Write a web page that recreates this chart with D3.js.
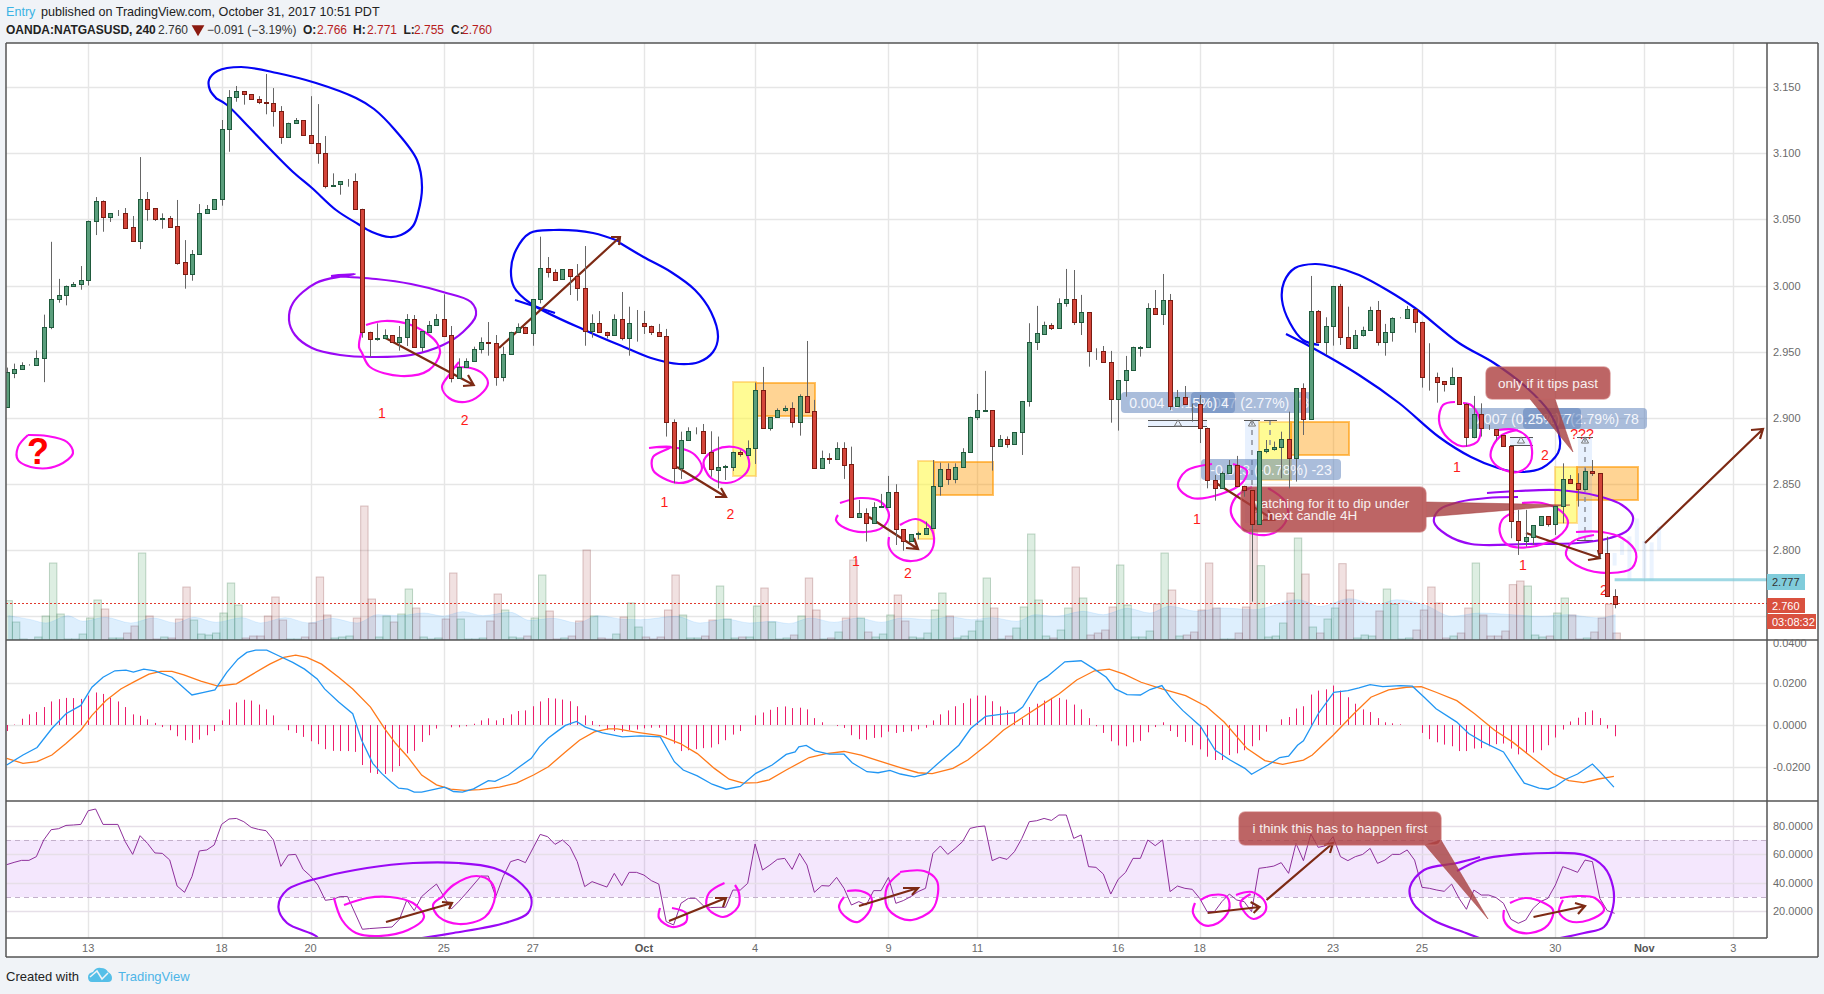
<!DOCTYPE html>
<html><head><meta charset="utf-8">
<script src="https://cdn.jsdelivr.net/npm/d3@7"></script>
<style>html,body{margin:0;padding:0;background:#f0f3f7;overflow:hidden}svg{display:block}text{font-family:"Liberation Sans",Arial,sans-serif}</style>
</head><body><svg id="c" width="1824" height="994"></svg>
<script>
// ---------- DATA ----------
const opens=[2.9085,2.934,2.937,2.94,2.94,2.945,2.969,2.99,2.993,3,
3.001,3.004,3.049,3.0635,3.052,3.0545,3.0545,3.0439,3.0338,3.0651,
3.0583,3.0505,3.0507,3.0447,3.0175,3.0089,3.0235,3.0545,3.0575,3.0651,
3.1179,3.1426,3.1466,3.1444,3.1406,3.1383,3.1376,3.1315,3.1119,3.123,
3.1247,3.1134,3.1074,3.0998,3.0754,3.0764,3.0787,3.0787,3.058,2.9651,
2.9598,2.9606,2.9623,2.9573,2.9608,2.9744,2.9538,2.9651,2.9699,2.9744,
2.9623,2.9298,2.9387,2.9432,2.952,2.9576,2.9563,2.9306,2.948,2.9651,
2.9689,2.9643,2.9895,3.0129,3.0099,3.0046,3.0122,3.0074,2.9978,2.9659,
2.9714,2.9651,2.9626,
2.9745,2.9606,2.9718,2.972,2.9697,2.9652,2.9621,2.8972,2.8624,2.883,2.8895,
2.8899,2.874,2.861,2.8631,2.8627,2.8745,2.872,2.877,2.9209,2.8927,2.9005,
2.9057,2.9073,2.8972,2.9166,2.905,2.8624,2.8694,2.8687,2.877,2.865,
2.8254,2.8285,2.8209,2.8328,2.833,2.8438,2.8159,2.8073,2.8124,2.8126,
2.8166,2.8488,2.8612,2.8541,2.8632,2.874,2.9005,2.9055,2.9057,2.8791,
2.8838,2.8806,2.8891,2.9125,2.9571,2.9637,2.97,2.9682,2.9866,2.9896,
2.9727,2.9798,2.9508,2.9503,2.942,2.9146,2.9284,2.936,2.9531,2.9533,
2.9828,2.9783,2.9888,2.9088,2.9161,2.9108,2.9103,2.8927,2.8529,
2.8468,2.8582,2.8642,2.8488,2.8453,2.8196,2.875,2.8763,2.8778,2.8838,
2.8695,2.9224,2.899,2.9805,2.9571,2.9692,2.9997,2.9609,2.9526,2.9624,
2.9662,2.9813,2.9576,2.9647,2.9752,2.9757,2.982,2.9727,2.9312,2.9307,
2.9277,2.9254,2.9307,2.9103,2.8854,2.9027,2.8919,2.8914,2.8869,2.8788,
2.8224,2.8073,2.8103,2.8194,2.8257,2.8196,2.8337,2.8536,2.8506,2.8466,
2.8597,2.8582,2.7977,2.7658];
const highs=[2.938,2.941,2.942,2.9405,2.951,2.978,3.033,3.005,3,3.0026,
3.0147,3.049,3.0668,3.0643,3.0545,3.057,3.0585,3.0525,3.097,3.0706,
3.0583,3.0545,3.0525,3.0646,3.0343,3.0268,3.0615,3.0608,3.0651,3.125,
3.1476,3.1507,3.1466,3.1444,3.143,3.1597,3.1491,3.1355,3.123,3.1265,
3.1247,3.143,3.137,3.1129,3.0847,3.0787,3.0804,3.0847,3.058,2.9651,
2.9714,2.9669,2.9623,2.9694,2.9784,2.9777,2.9656,2.9732,2.9784,2.9933,
2.9694,2.945,2.945,2.9538,2.9608,2.9724,2.9626,2.9538,2.9651,2.9714,
2.9689,2.9895,3.0369,3.0215,3.0122,3.0122,3.0122,3.0162,3.0298,2.9782,
2.9807,2.9651,2.9782,
2.9951,2.984,2.9815,2.9808,2.9697,2.971,2.9672,2.8989,2.8896,2.8929,2.8929,
2.8954,2.8899,2.8859,2.8645,2.8745,2.8755,2.883,2.9266,2.9385,2.9005,2.9072,
2.9093,2.9118,2.9178,2.9581,2.9136,2.8753,2.8733,2.8816,2.8816,2.8783,
2.838,2.8317,2.8363,2.8426,2.8562,2.8499,2.8159,2.8121,2.8141,2.8217,
2.8682,2.8662,2.8657,2.8657,2.8771,2.9009,2.9181,2.9355,2.9057,2.8871,
2.886,2.8891,2.9128,2.9715,2.9846,2.9727,2.9715,2.9903,3.0125,3.0117,
2.9929,2.9798,2.9526,2.9543,2.9506,2.9284,2.9468,2.9538,2.9543,2.9866,
2.9966,3.0087,2.9936,2.9211,2.9241,2.9108,2.9173,2.8927,2.8569,
2.8594,2.8682,2.8713,2.8488,2.8453,2.875,2.8833,2.8821,2.8896,2.9047,
2.9224,2.9261,3.0072,2.9815,2.976,2.9997,3.0012,2.984,2.9664,2.9689,
2.984,2.9883,2.971,2.976,2.976,2.9846,2.982,2.9727,2.9564,2.9342,
2.9277,2.938,2.9307,2.911,2.9166,2.911,2.8947,2.8914,2.8869,2.8788,
2.8305,2.8305,2.8103,2.8194,2.8257,2.8337,2.8657,2.8569,2.8582,2.8619,
2.8682,2.8582,2.8103,2.7706];
const lows=[2.9085,2.93,2.937,2.9395,2.94,2.927,2.967,2.987,2.985,3,
2.9968,3,3.0381,3.0406,3.048,3.0525,3.043,3.0338,3.0275,3.0489,
3.0487,3.0429,3.0437,3.0157,2.9976,3.0036,3.0235,3.0545,3.0575,3.0603,
3.101,3.1388,3.1366,3.1406,3.137,3.1293,3.12,3.107,3.1119,3.123,
3.1134,3.1074,3.092,3.0734,3.0754,3.0686,3.0746,3.058,2.9606,2.9462,
2.9583,2.9606,2.9573,2.9508,2.9543,2.9538,2.95,2.9651,2.9699,2.9621,
2.9268,2.9298,2.9387,2.9432,2.9487,2.947,2.9243,2.9276,2.948,2.9651,
2.9643,2.9545,2.9865,3.006,3.0044,3.0046,2.9928,2.9885,2.9545,2.9606,
2.9651,2.96,2.9626,
2.9586,2.947,2.9576,2.9634,2.9626,2.9621,2.8859,2.8506,2.8539,2.883,2.8876,
2.8738,2.8556,2.8468,2.8531,2.8599,2.8707,2.872,2.8652,2.8927,2.8904,2.9005,
2.9047,2.8927,2.8866,2.9047,2.8615,2.8615,2.8652,2.8687,2.8539,2.8254,
2.8254,2.8066,2.8209,2.8322,2.833,2.804,2.7997,2.8066,2.8083,2.8126,
2.8166,2.8413,2.8494,2.8506,2.8632,2.874,2.8984,2.9047,2.8602,2.8791,
2.8775,2.8806,2.872,2.9085,2.9513,2.9637,2.9664,2.9682,2.984,2.9702,
2.9626,2.9387,2.9438,2.9417,2.8964,2.8904,2.916,2.936,2.9463,2.9533,
2.9783,2.9702,2.906,2.9088,2.9108,2.8972,2.881,2.8468,2.8375,
2.8468,2.8582,2.8488,2.8405,2.7612,2.8196,2.8733,2.8753,2.8544,2.8468,
2.8519,2.8871,2.899,2.9564,2.9475,2.9546,2.9551,2.9526,2.9526,2.9614,
2.9662,2.9546,2.947,2.9576,2.9752,2.9757,2.9644,2.9229,2.9206,2.9115,
2.9199,2.9249,2.9103,2.8783,2.8846,2.8859,2.8909,2.8833,2.8783,2.8091,
2.7965,2.8028,2.804,2.8184,2.8179,2.8116,2.8204,2.8501,2.833,2.8466,
2.8562,2.794,2.7658,2.7562];
const closes=[2.9344,2.937,2.94,2.94,2.945,2.969,2.99,2.993,3,3.001,
3.004,3.049,3.0635,3.052,3.0545,3.0545,3.0437,3.0338,3.0651,3.058,
3.0502,3.0507,3.0444,3.0172,3.0089,3.0235,3.0545,3.0575,3.0651,3.1179,
3.1426,3.1466,3.1444,3.1406,3.1383,3.1376,3.1315,3.1119,3.123,3.1247,
3.1134,3.1074,3.0998,3.0754,3.076,3.0787,3.0787,3.058,2.9651,2.9598,
2.9606,2.9623,2.9573,2.9608,2.9744,2.9538,2.9656,2.9699,2.9744,2.9621,
2.9298,2.9387,2.9432,2.952,2.9575,2.9563,2.9311,2.948,2.9651,2.9689,
2.9643,2.9895,3.0129,3.0099,3.0044,3.0122,3.0074,2.9978,2.9659,2.9714,
2.9651,2.9626,2.9744,
2.9601,2.9715,2.972,2.9694,2.9652,2.9621,2.8972,2.8624,2.883,2.8901,2.8897,
2.8738,2.8612,2.8627,2.8633,2.8745,2.8725,2.877,2.9209,2.8927,2.9005,2.9057,
2.9073,2.8972,2.9166,2.9047,2.8624,2.8695,2.8691,2.877,2.8647,2.8254,
2.8285,2.8209,2.833,2.8331,2.8438,2.8159,2.8073,2.8121,2.8127,2.8166,
2.8488,2.8612,2.8541,2.8632,2.874,2.9005,2.9057,2.9058,2.8791,2.8838,
2.8806,2.8891,2.9125,2.9571,2.9639,2.97,2.9682,2.9866,2.9896,2.9727,
2.9798,2.9508,2.9506,2.942,2.9146,2.9284,2.936,2.9533,2.9534,2.9828,
2.9783,2.9888,2.9088,2.9161,2.9108,2.9106,2.8927,2.8529,2.8468,
2.8582,2.8642,2.8488,2.8453,2.8196,2.875,2.8763,2.8778,2.8838,2.8695,
2.9224,2.899,2.9805,2.9571,2.9692,2.9997,2.9609,2.9526,2.9624,2.9662,
2.9813,2.9576,2.9647,2.9752,2.9757,2.982,2.9727,2.9312,2.931,2.9274,
2.9254,2.9307,2.9103,2.8854,2.9027,2.8922,2.8914,2.8869,2.8788,2.8224,
2.8078,2.8103,2.8194,2.8257,2.8196,2.8337,2.8536,2.8506,2.8466,2.8597,
2.8582,2.7977,2.7658,2.7595];
const volumes=[118,54,3,1,9,72,231,78,3,3,18,66,120,93,6,6,21,42,261,72,3,9,6,63,159,60,18,15,21,81,171,105,6,12,12,72,129,60,3,3,9,51,189,75,6,9,12,66,402,123,9,72,54,78,153,96,9,3,6,63,201,63,3,3,6,57,138,90,9,6,12,66,195,87,3,6,12,57,270,72,6,3,18,
69,111,39,9,3,9,90,195,75,6,6,12,60,162,63,6,9,9,102,156,54,3,6,15,72,186,90,3,6,24,66,240,66,24,9,18,75,135,57,9,6,21,90,141,72,6,12,27,57,186,96,3,12,36,99,318,120,12,6,30,96,219,126,15,21,30,99,225,105,9,9,27,108,261,150,12,15,24,90,231,96,
3,3,21,99,331,223,9,12,51,141,306,198,39,21,63,96,229,150,6,15,12,87,153,108,3,6,30,90,159,111,6,12,21,96,231,75,12,12,27,166,177,162,15,9,12,81,126,75,3,6,24,66,108,21];
const volumeMA=[[0,73],[3,61],[5,51],[8,73],[10,56],[13,68],[16.5,51],[19.5,66],[22.5,51],[25,68],[28,53],[31.5,67],[34,51],[37.3,67],[40.5,51],[43.6,65],[47,51],[49.8,76],[52.7,73],[56,81],[58.6,72],[61.3,85],[64,73],[67.7,83],[70.3,59],[73.5,65],[76.7,51],[79.6,73],[83,62],[85.3,61],[90,71],[93.3,51],[96.8,63],[100,51],[103,56],[105.3,49],[108.2,66],[111.4,53],[114.6,66],[117.8,53],[120.5,66],[124.2,61],[127,69],[130,61],[132.7,67],[136,56],[138.6,76],[141.3,71],[145,86],[147.7,76],[151,95],[154,81],[156.7,101],[160.4,86],[163.7,96],[168,91],[174,121],[177,101],[181,124],[184.6,106],[187.3,121],[191,106],[194.8,71],[198.5,81],[202.8,76],[206.6,71],[210.3,76],[214.6,66],[216.8,76]];
const macdHist=[-29,2,30,51,62,86,113,124,130,129,125,141,156,149,130,113,86,51,44,27,10,-10,-25,-54,-73,-86,-70,-49,-29,22,75,108,121,117,98,75,46,0,-25,-38,-57,-78,-92,-116,-124,-125,-125,-129,-192,-229,-235,-235,-224,-197,-136,-124,-81,-49,-17,0,-11,-11,-6,6,22,32,22,33,51,67,70,90,113,129,127,122,114,90,46,19,-6,-22,-29,-33,-25,-22,-16,-13,-13,-49,-89,-125,-121,-116,-111,-108,-92,-73,-46,-29,0,46,60,73,86,89,81,83,75,33,13,0,-5,-14,-49,-68,-71,-62,-59,-32,-38,-33,-30,-21,-13,22,51,70,90,105,127,141,141,114,89,70,57,30,86,102,117,130,130,122,98,75,33,-6,-38,-78,-98,-102,-83,-76,-35,-10,13,-29,-57,-81,-97,-117,-152,-168,-168,-144,-136,-121,-102,-73,-32,0,27,38,79,90,146,165,171,189,165,133,102,75,62,33,13,8,3,0,0,-38,-68,-83,-94,-102,-125,-125,-113,-111,-102,-92,-89,-113,-141,-136,-132,-121,-97,-60,-22,17,35,62,70,33,-17,-54];
const macdLine=[[0,-.0192],[2.2,-.0144],[4.1,-.0108],[6.1,-.0017],[8,.0054],[10,.0094],[11.5,.0181],[13,.0229],[14.6,.026],[16.1,.0263],[17.1,.0254],[18.5,.0268],[20,.026],[22.3,.0229],[24.3,.0165],[25,.0144],[26.6,.0157],[28.1,.0168],[29.7,.0252],[31.2,.0316],[32.4,.0348],[33.6,.0359],[35.1,.0359],[36.7,.0332],[38.6,.03],[40.2,.0268],[41.9,.0221],[42.9,.0173],[44.8,.011],[46.7,.0054],[47.9,-.0073],[49.4,-.0184],[50.6,-.0232],[51.8,-.0271],[52.9,-.0303],[54.1,-.0308],[55,-.0322],[56,-.0322],[58,-.0306],[59.1,-.0298],[60.3,-.0319],[61.5,-.0322],[63,-.0306],[65,-.0267],[65.9,-.027],[67.7,-.024],[69.2,-.02],[70.8,-.016],[71.9,-.0105],[73.1,-.0062],[74.2,-.0033],[75.4,-.0002],[76.9,.0017],[78.1,-.001],[80.4,-.0038],[83.1,-.0057],[85.5,-.0052],[88.2,-.0057],[90.1,-.0176],[91.3,-.0216],[93.2,-.0244],[95.2,-.0284],[97.1,-.0308],[99,-.0295],[101.1,-.0232],[103.3,-.0192],[105.2,-.0141],[106.4,-.0129],[106.9,-.0105],[107.9,-.0098],[109.1,-.0124],[111,-.014],[113,-.014],[114.1,-.0181],[116.1,-.0224],[117.6,-.0229],[119.2,-.0218],[120.6,-.0235],[122.5,-.0249],[124.1,-.0235],[126.1,-.0171],[128.5,-.0097],[130.1,-.0017],[132.1,.0041],[134.1,.0051],[136.1,.0059],[137.1,.0086],[139.2,.0205],[140.4,.0232],[142.8,.0303],[145,.0308],[146.8,.0268],[148.4,.0229],[149.6,.0173],[151.2,.0146],[153,.0144],[154.3,.017],[155.9,.0189],[157.1,.013],[158.7,.007],[161.1,-.0006],[163.1,-.0121],[165.1,-.0168],[167.1,-.0208],[168,-.0236],[170.2,-.0192],[171.8,-.0156],[173,-.0149],[174.2,-.0097],[175,-.0076],[177,.0054],[179.1,.0157],[181,.0165],[182.5,.0178],[184,.0194],[185.7,.0184],[188.1,.0189],[189.7,.0186],[191.3,.0133],[192.9,.0078],[195.7,.0014],[197.3,-.0041],[199.2,-.0081],[202,-.0129],[203.6,-.0216],[204.8,-.0279],[206.8,-.0303],[208,-.0308],[209,-.0295],[210.4,-.026],[212,-.0235],[214,-.0187],[215.1,-.0227],[216.9,-.0298]];
const macdSignal=[[0,-.016],[2.2,-.0184],[4.1,-.0176],[6.1,-.0144],[8,-.0089],[10,-.0025],[11.5,.0046],[13.4,.0117],[15.4,.0173],[17.3,.0209],[19.2,.0244],[20.8,.0257],[22.3,.0257],[23.9,.024],[26.2,.021],[28.5,.0187],[31,.0197],[33.2,.0244],[35.5,.0292],[37.4,.0324],[39,.0335],[40.5,.0324],[42.5,.0292],[44.8,.0229],[46.7,.0173],[49.1,.0086],[51,-.0017],[52.5,-.0089],[54.1,-.0152],[56,-.024],[58,-.0287],[59.9,-.0308],[61.8,-.0314],[63.8,-.031],[66.5,-.0298],[68.8,-.0279],[71.1,-.024],[73.1,-.02],[75.4,-.0129],[77.3,-.0073],[79.3,-.0033],[81.2,-.0019],[82.4,-.0019],[85.1,-.0035],[88.2,-.0051],[90.9,-.0089],[93.2,-.0137],[95.5,-.0208],[97.5,-.026],[99.4,-.0279],[101.3,-.0276],[102.9,-.0263],[105.2,-.0216],[108.3,-.0156],[110.6,-.0137],[113,-.0127],[115.3,-.0144],[117.6,-.0171],[120.6,-.0204],[123,-.0229],[124.9,-.0233],[127.7,-.0208],[129.7,-.0168],[132.5,-.0089],[134.5,-.0025],[137.2,.0038],[139.6,.0094],[142,.0149],[144.4,.0216],[146.8,.026],[148.8,.0268],[150.8,.0244],[153.1,.0205],[155.9,.0173],[159.1,.0141],[161.9,.0089],[164.3,.0014],[167.4,-.0113],[169.8,-.0171],[172.2,-.0189],[175,-.0168],[176.2,-.0144],[179,-.0049],[181.8,.0054],[184.1,.0133],[186.5,.0168],[188.9,.0181],[190.9,.0184],[192.9,.0157],[195.7,.0117],[198.1,.0054],[200.8,-.0025],[203.2,-.0081],[206,-.016],[208.8,-.0236],[210.8,-.0267],[212.8,-.0276],[214.8,-.0259],[216.9,-.0246]];
const rsi=[52.7,54.3,55.7,55.7,58.3,70,77.2,77.9,80.2,80.5,80.9,90.5,91.7,80.9,null,80.9,68.8,59.9,73,67.6,60.9,60.6,56,37.7,33.3,44.3,62.3,63,66.5,80.9,84.7,85.1,82.8,78.8,77.4,76.5,70,51.5,59.5,59.9,49.4,44.7,38.4,27.7,28.4,30.3,30.3,null,7.4,7.9,null,null,9,14.4,27.9,20.5,30.3,34.9,39.1,30.3,21.6,26.8,32.6,null,44.7,44.7,30.3,44.3,54.8,56.4,54.1,null,73.9,72.3,66.9,70,65.3,54.8,37.3,40.8,null,37,46.6,38,47.3,47.3,45.4,41.5,39.1,12.8,10.4,25.6,29.1,29.1,24,22.6,22.8,22.8,34.9,34.9,39.6,67.2,48.9,52.4,56.4,57.1,49.4,60.6,52.4,33.3,38,37.7,43.8,36.1,24.4,26.8,24.4,34.5,34.5,43.8,25.6,
27.5,30.3,33.8,36.1,60.6,65.8,59.9,64.1,68.8,78.1,79.3,79.8,55.5,57.8,56.4,61.8,71.1,82.8,83.5,85.1,83.7,87.5,87.5,71.1,73.5,51.3,50.8,46.1,32.1,42.4,47.3,57.1,57.1,70,66,70,33.8,37.7,36.1,35.4,29.1,19.8,19.8,26.8,32.1,27.9,26.8,19.8,50.1,50.8,51.7,54.1,46.6,67.6,55.5,74.2,64.8,66,72.3,58.3,55.5,58.3,59.9,64.1,53.6,55.9,59.9,59.9,63,55.9,36.8,36.1,34.9,34,39.1,29.1,21.4,34.9,31.4,31.4,29.6,25.6,14.4,11.6,13.9,22.1,26.8,29.1,38.4,51.3,49.4,47.3,55.9,54.8,29.1,20.5,18.6];
const dayTickBars=[11,29,41,59,71,86,101,119,131,150,161,179,191,209,221,233];
const dayTickLabels=["13","18","20","25","27","Oct","4","9","11","16","18","23","25","30","Nov","3"];
const priceTicks=[3.15,3.1,3.05,3,2.95,2.9,2.85,2.8,2.75];
const priceTickLabels=["3.150","3.100","3.050","3.000","2.950","2.900","2.850","2.800"];
const macdTicks=[.02,0,-.02];
const macdTickLabels=[[.04,"0.0400"],[.02,"0.0200"],[0,"0.0000"],[-.02,"-0.0200"]];
const rsiTicks=[80,60,40,20];
const ghostBars=[[213,2.7977,2.8],[215,2.7965,2.8],[216,2.7985,2.8095],[217,2.7885,2.798],[218,2.7965,2.8075],[219,2.7775,2.8105],[220,2.8,2.824],[221,2.779,2.807],[222,2.777,2.806],[223,2.8,2.818]];

// hand-drawn annotations (reference pixels)
const blueLoops=[
 [[217,99],[210,90],[209,80],[217.5,71],[241,67],[277,73],[316,83],[356,98],[374,109],[395,130],[417,160],[422,187],[418,213],[413,226],[401,235],[389.5,237],[372,232],[358,224],[336,210],[312,188],[293,172],[269,148],[245,123],[227,105],[215.5,98]],
 [[620,241.7],[593,233],[553.6,230],[530,233],[516,250],[511,270],[514,287],[530,303],[589,332],[624,347],[651,358],[679,364],[699,362],[713,352],[718,337],[711,312],[695,290],[671,272],[643.5,257],[620,243]],
 [[515,300],[555,313]],
 [[1286,334],[1311,347],[1359,375],[1399,403],[1439,437],[1471,457],[1498,468],[1518,472],[1542,468],[1558,453],[1560,440],[1550,413],[1526,387],[1494,363],[1459,343],[1415,308],[1387,290],[1359,275],[1335,267],[1315,264],[1295,268],[1284,282],[1282,300],[1290,323],[1303,340],[1319,345]]];
const purpleLoops=[
 [[331,276],[355,274],[344,276],[316,283],[293,303],[289,320],[295,335],[312,348],[340,355],[372,357],[411,355],[443,345],[463,332],[476,315],[471,302],[443,292],[411,284],[376,279],[332,276]],
 [[1487,493],[1518,491],[1558,490],[1598,496],[1622,505],[1633,517],[1628,530],[1610,538],[1578,543],[1526,544],[1471,544],[1447,535],[1434,522],[1439,510],[1459,502],[1487,498],[1518,497]],
 [[320,942],[316,936],[287,923],[278.4,907],[287,890],[327,876],[367,868],[413,863],[459,863],[494,868],[517,880],[531,897],[528,913],[505,923],[453.5,933],[422,938]],
 [[1480,857],[1457,863],[1424,870],[1410,887],[1413,903],[1433,920],[1466,933],[1490,942]],
 [[1457,871],[1480,860],[1501,856],[1548,853],[1584,855],[1604,867],[1613,887],[1613,907],[1604,927],[1584,933],[1550,940]]];
const magentaLoops=[
 [[362,330],[359,347],[362,353],[370,367],[401,376],[429,370],[440,353],[437,343],[429,335],[411,325],[385,321],[366,325]],
 [[459,362],[449,375],[442,387],[449,398],[465,402],[480,395],[488,383],[482,373],[470.5,368],[455,367]],
 [[28,435],[18,447],[18,460],[36,468],[59,465],[73,453],[67,442],[47,436],[28,435]],
 [[649,448],[671,447],[653,457],[653,470],[663,478],[679,483],[695,478],[702,468],[695,455],[683,449],[659,447]],
 [[704,467],[704,460],[715,450],[734,447],[746,453],[749,467],[742,477],[727,483],[711,478],[704,467]],
 [[840,503],[861,498],[881,502],[889,515],[883,527],[865,532],[845,528],[836,520],[838,515]],
 [[900,525],[916,519],[930,527],[934,542],[928,555],[912,561],[897,557],[889,547],[889,537]],
 [[1212,464],[1186,471],[1178,486],[1192,498],[1221,494],[1242,483],[1247,471],[1233,464]],
 [[1252,487],[1236,497],[1231,513],[1244,530],[1266,535],[1282,527],[1288,513],[1284,500],[1268,488]],
 [[1455,402],[1443,405],[1439,420],[1445,435],[1461,446],[1477,442],[1481,430],[1479,417],[1471,405],[1463,403]],
 [[1518,430],[1502,435],[1492,448],[1491,458],[1500,468],[1518,472],[1530,463],[1532,450],[1528,438],[1516,430],[1498,430]],
 [[1514,512],[1502,520],[1500,533],[1508,545],[1530,547],[1558,537],[1568,523],[1562,512],[1542,503],[1522,503]],
 [[1576,532],[1602,532],[1622,538],[1636,553],[1632,568],[1610,573],[1582,568],[1566,555],[1572,542],[1594,535]],
 [[344,905],[367,898],[390,897],[413,903],[424,917],[408,930],[379,936],[356,933],[342,920],[334,898]],
 [[442,897],[453.5,885],[476.5,876],[491,882],[495,897],[485,917],[459,924],[439,917],[433,905],[442,897]],
 [[660,908],[659,918],[672,927],[686,922],[686,913],[672,908]],
 [[724.5,883],[709,893],[707,907],[723,917],[738,907],[739,893],[735,885]],
 [[844,897],[839,907],[847,918],[858,922],[870,910],[871,897],[861,891],[847,891]],
 [[900,872],[924,871],[936.5,880],[938,893],[932,910],[912,920],[900,918],[887,907],[887,887],[900,873]],
 [[1195,903],[1193,913],[1203.5,925],[1218,923],[1229,910],[1227,897],[1212,895],[1200.5,900]],
 [[1236,895],[1252,892],[1265,902],[1265,912],[1253.5,919],[1243,910],[1240.6,902],[1250.6,894]],
 [[1504,910],[1504,920],[1513,930],[1530.5,933],[1548,925],[1553,910],[1542,902],[1525,898],[1510,903]],
 [[1560,898],[1578,896],[1595,898],[1604,910],[1589,920],[1569,921],[1559,912],[1563,900]]];
const arrows=[ // start, tip, barb, barb
 [[385.5,338],[473.7,385],[468,375],[463,386]],
 [[499,348],[620,237],[611,237],[619,245]],
 [[677,467],[726,497],[721,488],[715,497]],
 [[869,517],[918,549],[914,538],[906,548]],
 [[1216,483],[1274,520],[1268,510],[1260,520]],
 [[1526,533],[1600,558],[1588,560],[1598,550]],
 [[1645,543],[1763,429],[1751,430],[1760,439]],
 [[386,922],[452,903],[442,902],[449,909]],
 [[669,921],[726,898],[715,898],[723,907]],
 [[859,906],[918,888],[903,888],[912,895]],
 [[1207.6,913],[1259.5,907],[1250.6,902],[1253.6,913]],
 [[1266.5,900],[1333,843],[1324,845],[1330,853]],
 [[1533.5,917],[1585,906],[1575,903],[1578,914]]];
const yellowBoxes=[[733,382,756,476],[918,461,934,539],[1259,422,1291,480],[1555,467,1577,523]];
const orangeBoxes=[[756,383,815,416],[934,462,993,495],[1291,422,1349,455],[1577,467,1638,500]];
const numberMarks=[["1",382,413],["2",464.6,420],["1",664.5,502],["2",730.5,514],["1",856,561],["2",908,573],["1",1197,519],["1",1457,467],["2",1545,455],["1",1523,565],["2",1604,590],["???",1582,434]];
// back-to-front: each later label covers the earlier one's text
const measureLabels=[[1191,392,1314,413,"0.077 (2.77%) 78",1255],[1121,392,1235,413,"0.004 (0.15%) 4",1179],[1201,459,1341,480,"-0.023 (-0.78%) -23",1271],[1523,408,1647,429,"0.077 (2.79%) 78",1585],[1465,408,1581,429,"0.007 (0.25%) 7",1522]];
const measureBands=[[1245,420,1259,523],[1578,437,1592,540],[1148,420,1207,426],[1510,437,1533,445]];
const measureDashes=[[1252,420,523],[1270,420,450],[1585,437,540]];
const measureRules=[[1148,1207,420],[1148,1207,426],[1510,1533,437],[1510,1533,445],[1244,1260,420],[1264,1277,420],[1577,1593,437],[1577,1593,540]];
const measureCarets=[[1178,424],[1252,424],[1521,441],[1585,441]];
const callouts=[
 {box:[1241,487,1426,532],tail:[[1426,502],[1426,517],[1570,505]],lines:[["watching for it to dip under",1251,503],["in next candle 4H",1253,515]],anchor:"start"},
 {box:[1486,367,1610,399],tail:[[1530,399],[1555,399],[1573,452]],lines:[["only if it tips past",1548,383]],anchor:"middle"},
 {box:[1239,812,1441,845],tail:[[1425,845],[1441,840],[1488,919]],lines:[["i think this has to happen first",1340,828]],anchor:"middle"}];

// ---------- SCALES ----------
const W=1824,H=994,L=6,R=1767,FR=1818,T=43,P1=640,P2=801,P3=938,B=957;
const x=d3.scaleLinear().domain([0,233]).range([6.7,1733.2]);
const yP=d3.scaleLinear().domain([3,2.8]).range([285.5,550.3]);
const yV=d3.scaleLinear().domain([0,402]).range([P1,P1-134]);
const yM=d3.scaleLinear().domain([.02,-.02]).range([683.3,766.7]);
const yH=d3.scaleLinear().domain([100,-100]).range([yM(.01),yM(-.01)]);
const yR=d3.scaleLinear().domain([80,20]).range([825.7,911.3]);
const sx=d3.scaleIdentity(), sy=d3.scaleIdentity();
const px=v=>Math.round(v)+.5;
const svg=d3.select("#c");
svg.append("rect").attr("width",W).attr("height",H).attr("fill","#f0f3f7");
svg.append("rect").attr("x",L).attr("y",T).attr("width",FR-L).attr("height",B-T).attr("fill","#fff");

const defs=svg.append("defs");
[["cP",P1-T,T],["cM",P2-P1,P1],["cR",P3-P2-1,P2]].forEach(([id,h,y])=>defs.append("clipPath").attr("id",id).append("rect").attr("x",L).attr("y",y).attr("width",R-L).attr("height",h));

// ---------- GRID ----------
const grid=svg.append("g").attr("stroke","#e6e6e6").attr("stroke-width",1.4);
dayTickBars.forEach(b=>grid.append("line").attr("x1",px(x(b))).attr("x2",px(x(b))).attr("y1",T).attr("y2",P3));
priceTicks.forEach(p=>grid.append("line").attr("x1",L).attr("x2",R).attr("y1",px(yP(p))).attr("y2",px(yP(p))));
macdTicks.forEach(p=>grid.append("line").attr("x1",L).attr("x2",R).attr("y1",px(yM(p))).attr("y2",px(yM(p))));

// ---------- RSI band ----------
const rsiG=svg.append("g").attr("clip-path","url(#cR)");
rsiG.append("rect").attr("x",L).attr("width",R-L).attr("y",yR(70)).attr("height",yR(30)-yR(70)).attr("fill","#9c27f0").attr("opacity",.11);
rsiTicks.forEach(p=>rsiG.append("line").attr("x1",L).attr("x2",R).attr("y1",px(yR(p))).attr("y2",px(yR(p))).attr("stroke","#e6dfe8").attr("stroke-width",1.4));
[70,30].forEach(p=>rsiG.append("line").attr("x1",L).attr("x2",R).attr("y1",px(yR(p))).attr("y2",px(yR(p))).attr("stroke","#c3b0cb").attr("stroke-dasharray","5,4"));

// ---------- VOLUME ----------
const isUp=i=>closes[i]>=opens[i];
const volG=svg.append("g").attr("clip-path","url(#cP)");
const vw=Math.abs(x(1)-x(0));
volG.selectAll("rect.v").data(volumes).join("rect").attr("class","v")
 .attr("x",(d,i)=>x(i)-vw/2+2).attr("width",vw).attr("y",d=>yV(d)).attr("height",d=>P1-yV(d))
 .attr("fill",(d,i)=>isUp(i)?"rgba(83,170,110,.2)":"rgba(170,80,80,.17)")
 .attr("stroke",(d,i)=>isUp(i)?"rgba(70,130,90,.32)":"rgba(140,70,70,.3)").attr("stroke-width",1);
volG.append("path").datum(volumeMA).attr("fill","rgba(33,150,243,.15)").attr("stroke","rgba(33,150,243,.12)")
 .attr("d",d3.area().x(d=>x(d[0])+2).y0(P1).y1(d=>yV(d[1])).curve(d3.curveMonotoneX));

// ---------- DRAWINGS (below the candles) ----------
const hand=d3.line().x(d=>sx(d[0])).y(d=>sy(d[1])).curve(d3.curveCatmullRom.alpha(.5));
const straight=d3.line().x(d=>sx(d[0])).y(d=>sy(d[1]));
const drawP=svg.append("g").attr("clip-path","url(#cP)");
const drawR=svg.append("g").attr("clip-path","url(#cR)");
const paneOf=pts=>pts[0][1]>P2?drawR:drawP;
const boxStyle=(g,b,fill,stroke)=>g.append("rect").attr("x",sx(b[0])).attr("y",sy(b[1])).attr("width",b[2]-b[0]).attr("height",b[3]-b[1]).attr("fill",fill).attr("stroke",stroke).attr("stroke-width",2);
yellowBoxes.forEach(b=>boxStyle(drawP,b,"rgba(255,247,60,.55)","rgba(255,190,60,.5)"));
orangeBoxes.forEach(b=>boxStyle(drawP,b,"rgba(255,152,0,.42)","rgba(255,152,0,.6)"));
measureBands.forEach(b=>drawP.append("rect").attr("x",b[0]).attr("y",b[1]).attr("width",b[2]-b[0]).attr("height",b[3]-b[1]).attr("fill","rgba(33,120,243,.1)"));
measureDashes.forEach(d=>drawP.append("line").attr("x1",d[0]).attr("x2",d[0]).attr("y1",d[1]).attr("y2",d[2]).attr("stroke","#8a8f99").attr("stroke-width",1.5).attr("stroke-dasharray","5,5"));
measureRules.forEach(r=>drawP.append("line").attr("x1",r[0]).attr("x2",r[1]).attr("y1",r[2]+.5).attr("y2",r[2]+.5).attr("stroke","#555").attr("stroke-width",1));
measureCarets.forEach(c=>drawP.append("path").attr("d",d3.symbol().type(d3.symbolTriangle).size(22)).attr("transform",`translate(${c[0]},${c[1]})`).attr("fill","none").attr("stroke","#777"));
measureLabels.forEach(m=>{drawP.append("rect").attr("x",m[0]).attr("y",m[1]).attr("width",m[2]-m[0]).attr("height",m[3]-m[1]).attr("rx",4).attr("fill","rgba(86,124,184,.5)");
 drawP.append("text").attr("x",m[5]).attr("y",(m[1]+m[3])/2+5).attr("text-anchor","middle").attr("fill","#f4f6fb").attr("font-size",14).attr("font-family","Open Sans").text(m[4]);});
blueLoops.forEach(p=>paneOf(p).append("path").attr("d",hand(p)).attr("fill","none").attr("stroke","#0404f5").attr("stroke-width",2.2));
purpleLoops.forEach(p=>paneOf(p).append("path").attr("d",hand(p)).attr("fill","none").attr("stroke","#9a08f5").attr("stroke-width",2.2));
magentaLoops.forEach(p=>paneOf(p).append("path").attr("d",hand(p)).attr("fill","none").attr("stroke","#fb0cf2").attr("stroke-width",2.2));
arrows.forEach(a=>{const g=paneOf(a);const s=straight;
 g.append("path").attr("d",s([a[0],a[1]])+s([a[2],a[1],a[3]])).attr("fill","none").attr("stroke","#7d2a14").attr("stroke-width",2.2);});
numberMarks.forEach(n=>drawP.append("text").attr("x",sx(n[1])).attr("y",sy(n[2])+5).attr("text-anchor","middle").attr("fill","#ff1a1a").attr("font-size",14).text(n[0]));
drawP.append("text").attr("x",38).attr("y",464).attr("text-anchor","middle").attr("fill","#f00").attr("font-size",36).attr("font-weight","bold").text("?");
callouts.forEach(c=>{const g=paneOf([[0,c.box[1]]]);
 g.append("path").attr("d",straight(c.tail)+"Z").attr("fill","rgba(166,62,62,.8)").attr("stroke","rgba(166,62,62,.5)");
 g.append("rect").attr("x",c.box[0]).attr("y",c.box[1]).attr("width",c.box[2]-c.box[0]).attr("height",c.box[3]-c.box[1]).attr("rx",6).attr("fill","rgba(172,62,62,.8)").attr("stroke","rgba(200,110,110,.6)").attr("stroke-width",1.5);
 c.lines.forEach(l=>g.append("text").attr("x",l[1]).attr("y",l[2]+4.5).attr("text-anchor",c.anchor).attr("fill","#f8f0f0").attr("font-size",13.5).attr("font-family","Open Sans").text(l[0]));});

// forecast ghost + level
ghostBars.forEach(g=>drawP.append("rect").attr("x",x(g[0])-2).attr("width",4).attr("y",yP(g[2])).attr("height",yP(g[1])-yP(g[2])).attr("fill","rgba(33,120,243,.09)"));
drawP.append("line").attr("x1",x(217)).attr("x2",R).attr("y1",yP(2.7777)).attr("y2",yP(2.7777)).attr("stroke","#80ccdb").attr("stroke-width",3).attr("opacity",.75);

// ---------- CANDLES ----------
const cG=svg.append("g").attr("clip-path","url(#cP)");
opens.forEach((o,i)=>{
 const c=closes[i],X=px(x(i)),up=isUp(i);
 cG.append("line").attr("x1",X).attr("x2",X).attr("y1",yP(highs[i])).attr("y2",yP(lows[i])).attr("stroke","#666").attr("stroke-width",1);
 const t=Math.round(yP(Math.max(o,c))),b=Math.round(yP(Math.min(o,c)));
 cG.append("rect").attr("x",X-2).attr("width",4).attr("y",t+.5).attr("height",Math.max(b-t,0))
  .attr("fill",up?"#5a9e7c":"#d4453a").attr("stroke",up?"#1f5a3c":"#7a1c12").attr("stroke-width",1);
});
// last price line
svg.append("line").attr("x1",L).attr("x2",R).attr("y1",px(yP(2.76))).attr("y2",px(yP(2.76))).attr("stroke","#e03a2e").attr("stroke-width",1).attr("stroke-dasharray","2,2");

// ---------- MACD ----------
const mG=svg.append("g").attr("clip-path","url(#cM)");
macdHist.forEach((v,i)=>{const X=px(x(i));mG.append("line").attr("x1",X).attr("x2",X).attr("y1",yH(0)).attr("y2",yH(v)).attr("stroke","#ec1e6b").attr("stroke-width",1);});
const mLine=d3.line().x(d=>x(d[0])).y(d=>yM(d[1]));
mG.append("path").attr("d",mLine(macdSignal)).attr("fill","none").attr("stroke","#ff7a1a").attr("stroke-width",1.3);
mG.append("path").attr("d",mLine(macdLine)).attr("fill","none").attr("stroke","#2196f3").attr("stroke-width",1.3);

// ---------- RSI ----------
const rsiPts=rsi.map((v,i)=>[i,v]).filter(d=>d[1]!==null);
rsiG.append("path").attr("d",d3.line().x(d=>x(d[0])).y(d=>yR(d[1]))(rsiPts)).attr("fill","none").attr("stroke","#8e2f9b").attr("stroke-width",1);

// ---------- FRAME ----------
const frame=svg.append("g").attr("stroke","#555").attr("stroke-width",1.5);
[[L,T,FR,T],[L,P1,FR,P1],[L,P2,FR,P2],[L,P3,R,P3],[L,B,FR,B],[L,T,L,B],[R,T,R,P3],[FR,T,FR,B]].forEach(l=>frame.append("line").attr("x1",l[0]).attr("y1",l[1]).attr("x2",l[2]).attr("y2",l[3]));

// ---------- AXES ----------
const ax=svg.append("g").attr("font-size",11).attr("fill","#6b6b6b");
priceTickLabels.forEach((t,i)=>ax.append("text").attr("x",1773).attr("y",yP(priceTicks[i])+4).text(t));
macdTickLabels.forEach(t=>ax.append("text").attr("x",1773).attr("y",Math.max(yM(t[0])+4,647)).text(t[1]));
rsiTicks.forEach(t=>ax.append("text").attr("x",1773).attr("y",yR(t)+4).text(t.toFixed(4)));
dayTickLabels.forEach((t,i)=>ax.append("text").attr("x",x(dayTickBars[i])).attr("y",952).attr("text-anchor","middle")
 .attr("font-weight",(t==="Oct"||t==="Nov")?"bold":"normal").attr("fill",(t==="Oct"||t==="Nov")?"#555":"#6b6b6b").text(t));
const tag=(y1,y2,w,fill,txt,col)=>{svg.append("rect").attr("x",R).attr("y",y1).attr("width",w).attr("height",y2-y1).attr("fill",fill);
 svg.append("text").attr("x",R+5).attr("y",(y1+y2)/2+4).attr("font-size",11).attr("fill",col).text(txt);};
tag(574,590,38,"#80ccdb","2.777","#333");
tag(598,613,38,"#d9513f","2.760","#fff");
tag(614,629,49,"#d9513f","03:08:32","#fff");

// ---------- HEADER ----------
const hd=svg.append("g");
const ht=(x,y,t,c,w,fs)=>hd.append("text").attr("x",x).attr("y",y).attr("fill",c).attr("font-size",fs||12).attr("font-family",'"Open Sans",sans-serif').attr("font-weight",w||"normal").text(t);
ht(6,16,"Entry","#3bb3e4","normal",12.6);
ht(41,16,"published on TradingView.com, October 31, 2017 10:51 PDT","#222","normal",12.6);
ht(6,34,"OANDA:NATGASUSD, 240","#222","bold");
ht(158,34,"2.760","#333");
svg.append("path").attr("d",d3.symbol().type(d3.symbolTriangle).size(70)).attr("transform","translate(198,29) rotate(180)").attr("fill","#8b1a10");
ht(207,34,"−0.091 (−3.19%)","#333");
[["O:",303,"2.766",317],["H:",353,"2.771",367],["L:",403.5,"2.755",414],["C:",451,"2.760",462]].forEach(o=>{ht(o[1],34,o[0],"#222","bold");ht(o[3],34,o[2],"#b71c1c");});

// ---------- FOOTER ----------
ht(6,981,"Created with","#222","normal",13);
svg.append("path").attr("d","M88 977 Q88 973 93 972 Q96 967 101 968 Q106 968 108 972 Q112 974 112 978 Q112 982 108 982 L92 982 Q88 982 88 977Z").attr("fill","#55bfe8");
svg.append("path").attr("d","M90 977 L97 971 L102 979 L108 973").attr("fill","none").attr("stroke","#f0f3f7").attr("stroke-width",1.5);
ht(118,981,"TradingView","#4db5e8","normal",13);
</script></body></html>
